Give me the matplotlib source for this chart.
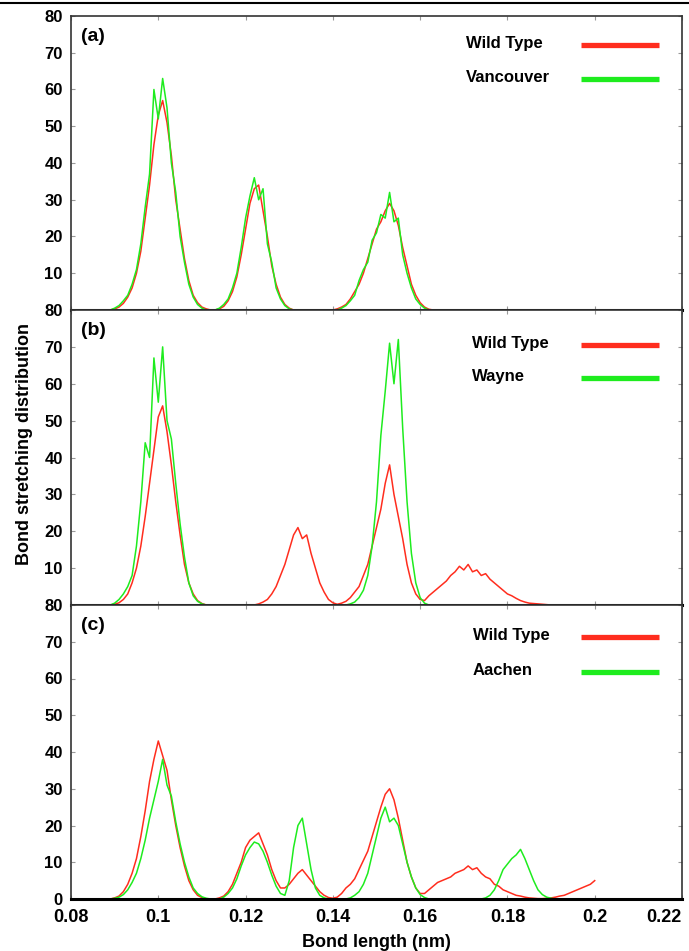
import numpy as np
import matplotlib.pyplot as plt
from matplotlib.lines import Line2D

# bond length grid (nm), 0.001 steps
bond = np.arange(88, 201) / 1000.0

# panel (a): Wild Type vs Vancouver
wt_a = [0, 0, 0.3, 0.8, 1.8, 3.5, 6, 10, 16, 25,
        34, 45, 53, 57, 51, 42, 30, 22, 14, 8,
        4, 2, 0.8, 0.3, 0, 0, 0.3, 1, 2.5, 5,
        9, 15, 22, 29, 33, 34, 27, 20, 12, 7,
        3.5, 1.5, 0.5, 0, 0, 0, 0, 0, 0, 0,
        0, 0, 0, 0.3, 0.8, 1.5, 3, 5, 7, 10,
        14, 18, 22, 24, 27, 29, 27, 23, 17, 12,
        7, 4, 2, 0.8, 0.2, 0, 0, 0, 0, 0,
        0, 0, 0, 0, 0, 0, 0, 0, 0, 0,
        0, 0, 0, 0, 0, 0, 0, 0, 0, 0,
        0, 0, 0, 0, 0, 0, 0, 0, 0, 0,
        0, 0, 0]
van_a = [0, 0, 0.5, 1.2, 2.5, 4, 7, 11, 18, 28,
         37, 60, 52, 63, 55, 40, 32, 20, 13, 7,
         3.5, 1.5, 0.5, 0, 0, 0, 0.5, 1.5, 3, 6,
         10, 17, 25, 31, 36, 30, 33, 18, 13, 6,
         3, 1.2, 0.3, 0, 0, 0, 0, 0, 0, 0,
         0, 0, 0, 0, 0.5, 1.2, 2.5, 4, 8, 11,
         13, 19, 21, 26, 25, 32, 24, 25, 15, 10,
         6, 3, 1.5, 0.5, 0, 0, 0, 0, 0, 0,
         0, 0, 0, 0, 0, 0, 0, 0, 0, 0,
         0, 0, 0, 0, 0, 0, 0, 0, 0, 0,
         0, 0, 0, 0, 0, 0, 0, 0, 0, 0,
         0, 0, 0]

# panel (b): Wild Type vs Wayne
wt_b = [0, 0, 0.2, 0.6, 1.5, 3, 6, 10, 16, 24,
        33, 42, 51, 54, 47, 38, 28, 19, 11, 6,
        3, 1.2, 0.4, 0, 0, 0, 0, 0, 0, 0,
        0, 0, 0, 0, 0, 0.3, 0.8, 1.5, 3, 5,
        8, 11, 15, 19, 21, 18, 19, 14, 10, 6,
        3.5, 1.5, 0.6, 0.2, 0.5, 1, 2, 3.5, 5, 8,
        11, 16, 21, 26, 33, 38, 30, 24, 18, 11,
        6, 3, 1.5, 1.2, 2.5, 3.5, 4.5, 5.5, 6.5, 8,
        9, 10.5, 9.5, 11, 9, 9.5, 8, 8.5, 7, 6,
        5, 4, 3, 2.5, 1.8, 1.2, 0.8, 0.5, 0.4, 0.3,
        0.2, 0.1, 0, 0, 0, 0, 0, 0, 0, 0,
        0, 0, 0]
wayne_b = [0, 0, 0.5, 1.5, 3, 5, 8, 16, 28, 44,
           40, 67, 55, 70, 50, 45, 33, 22, 13, 6,
           2.5, 1, 0.3, 0, 0, 0, 0, 0, 0, 0,
           0, 0, 0, 0, 0, 0, 0, 0, 0, 0,
           0, 0, 0, 0, 0, 0, 0, 0, 0, 0,
           0, 0, 0, 0, 0, 0, 0.3, 0.8, 2, 4,
           8, 16, 28, 46, 58, 71, 60, 72, 48, 28,
           14, 6, 2, 0.5, 0, 0, 0, 0, 0, 0,
           0, 0, 0, 0, 0, 0, 0, 0, 0, 0,
           0, 0, 0, 0, 0, 0, 0, 0, 0, 0,
           0, 0, 0, 0, 0, 0, 0, 0, 0, 0,
           0, 0, 0]

# panel (c): Wild Type vs Aachen
wt_c = [0, 0, 0.3, 0.8, 2, 4, 7, 11, 17, 24,
        32, 38, 43, 39, 35, 27, 20, 14, 9, 5,
        2.5, 1, 0.4, 0, 0, 0, 0.3, 0.8, 2, 4,
        7, 10, 14, 16, 17, 18, 15, 12, 8, 5,
        3, 3, 4, 5.5, 7, 8, 6.5, 5, 3.5, 2,
        1, 0.4, 0.2, 0.5, 1.5, 3, 4, 5.5, 8, 10.5,
        13, 17, 21, 25, 28.5, 30, 27, 22, 16, 10,
        6, 3, 1.5, 1.5, 2.5, 3.5, 4.5, 5, 5.5, 6,
        7, 7.5, 8, 9, 8, 8.5, 7, 6, 5.5, 4,
        3.5, 2.5, 2, 1.5, 1, 0.8, 0.5, 0.3, 0.2, 0.1,
        0.1, 0.2, 0.3, 0.5, 0.8, 1, 1.5, 2, 2.5, 3,
        3.5, 4, 5]
aachen_c = [0, 0, 0.2, 0.5, 1.2, 2.5, 4.5, 7, 11, 16,
            22, 27, 32, 38, 31, 28, 21, 15, 10, 6,
            3, 1.5, 0.6, 0.2, 0, 0, 0, 0.5, 1.5, 3,
            5.5, 9, 12, 14, 15.5, 15, 13, 10, 6.5, 3.5,
            1.5, 1, 5, 14, 20, 22, 15, 8, 3, 1,
            0.3, 0, 0, 0, 0, 0, 0.3, 1, 2, 4,
            7, 12, 17, 22, 25, 21, 22, 20, 15, 10,
            6, 3, 1.2, 0.4, 0, 0, 0, 0, 0, 0,
            0, 0, 0, 0, 0, 0, 0, 0.3, 1, 2.5,
            5, 8, 9.5, 11, 12, 13.5, 11, 8, 5, 2.5,
            1.2, 0.5, 0.2, 0, 0, 0, 0, 0, 0, 0,
            0, 0, 0]

panels = [('(a)', wt_a, van_a, 'Vancouver'),
          ('(b)', wt_b, wayne_b, 'Wayne'),
          ('(c)', wt_c, aachen_c, 'Aachen')]

xticks = [0.08, 0.1, 0.12, 0.14, 0.16, 0.18, 0.2, 0.22]
xticklabels = ['0.08', '0.1', '0.12', '0.14', '0.16', '0.18', '0.2', '0.22']

red = '#ff2d1e'
green = '#1eec1e'

plt.rcParams['font.family'] = ['Liberation Sans', 'DejaVu Sans']
plt.rcParams['font.weight'] = 'bold'

fig = plt.figure(figsize=(6.89, 9.51), dpi=100)
W, H = 689.0, 951.0
left, right = 71 / W, 682 / W
tops = [16, 310, 605, 899]
# legend placement per panel (axes fraction): text x, row y's
leg_x = [0.646, 0.656, 0.658]
leg_y = [(0.905, 0.79), (0.887, 0.775), (0.897, 0.778)]

# thin rule at very top of page
fig.add_artist(Line2D([0, 1], [1 - 3 / H, 1 - 3 / H], color='black', lw=1.5))

axes = []
for i, (tag, wt, mut, mutname) in enumerate(panels):
    bot = 1 - tops[i + 1] / H
    h = (tops[i + 1] - tops[i]) / H
    ax = fig.add_axes([left, bot, right - left, h])
    axes.append(ax)

    ax.plot(bond, wt, color=red, lw=1.1)
    ax.plot(bond, mut, color=green, lw=1.1)

    ax.set_xlim(0.08, 0.22)
    ax.set_ylim(0, 80)
    ax.set_xticks(xticks)
    if i == 2:
        ax.set_yticks(range(0, 90, 10))
        ax.set_xticklabels(xticklabels, fontsize=13, fontweight='bold')
        # last label would run off the page edge
        ax.get_xticklabels()[-1].set_horizontalalignment('right')
    else:
        ax.set_yticks(range(10, 90, 10))
        ax.set_xticklabels([])
    ax.tick_params(axis='both', direction='in', top=True, right=True,
                   length=3, width=0.8, color='#999999')
    ax.tick_params(axis='y', labelsize=12, pad=6)
    ax.tick_params(axis='x', pad=7)
    for s in ['left', 'right', 'top']:
        ax.spines[s].set_linewidth(1.2)
        ax.spines[s].set_color('#333333')
    ax.spines['bottom'].set_linewidth(2.2)
    ax.spines['bottom'].set_color('black')

    ax.text(0.016, 0.93, tag, transform=ax.transAxes, fontsize=14,
            fontweight='bold', va='center', ha='left')

    # legend drawn by hand: text column then sample line
    for name, col, yy in [('Wild Type', red, leg_y[i][0]),
                          (mutname, green, leg_y[i][1])]:
        ax.text(leg_x[i], yy, name, transform=ax.transAxes, fontsize=12,
                fontweight='bold', va='center', ha='left')
        ax.add_line(Line2D([0.835, 0.962], [yy - 0.005, yy - 0.005],
                           transform=ax.transAxes, color=col, lw=3.8,
                           solid_capstyle='butt'))

axes[2].set_xlabel('Bond length (nm)', fontsize=13, fontweight='bold',
                   labelpad=6)
fig.text(0.035, 0.533, 'Bond stretching distribution', rotation=90,
         fontsize=13, fontweight='bold', ha='center', va='center')

plt.savefig('out.png', dpi=100)
